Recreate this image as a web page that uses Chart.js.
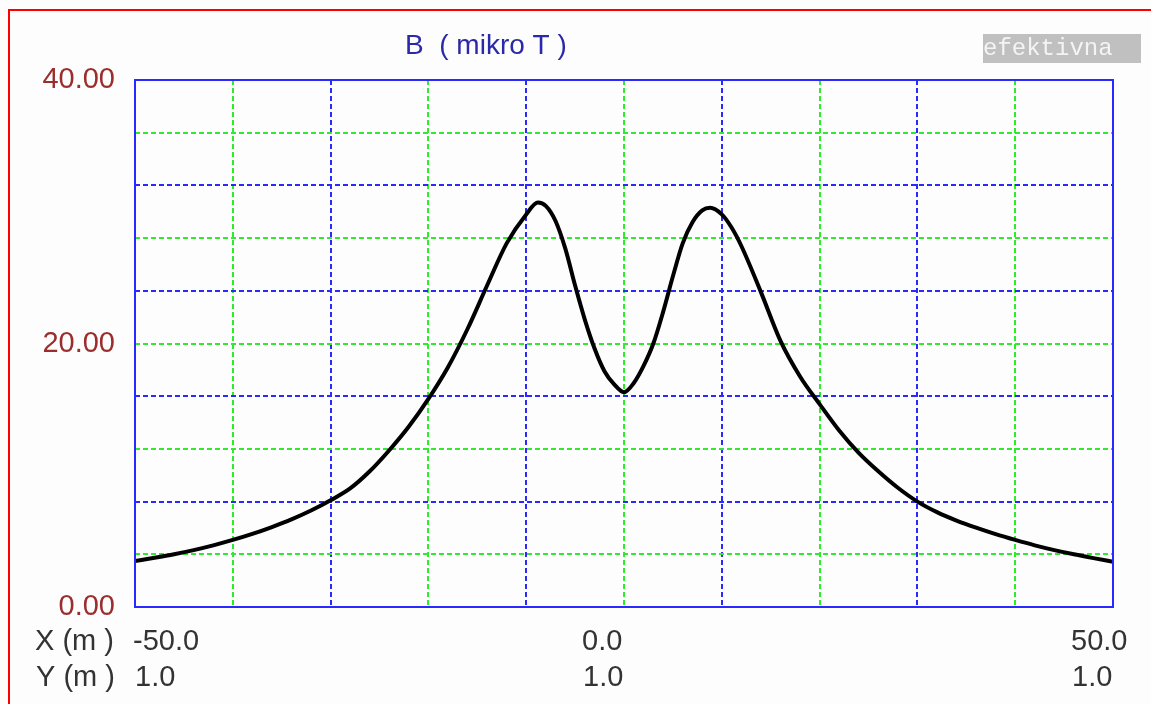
<!DOCTYPE html>
<html>
<head>
<meta charset="utf-8">
<title>B (mikro T)</title>
<script src="https://cdn.jsdelivr.net/npm/chart.js@4.4.1/dist/chart.umd.min.js"></script>
<style>
  html, body { margin: 0; padding: 0; background: #fdfdfd; }
  #wrap { position: relative; width: 1151px; height: 704px; }
</style>
</head>
<body>
<div id="wrap"><canvas id="fieldChart"></canvas></div>
<script>
// udaljenost od osi voda (m)
const xPos = [-50, -48, -46, -44, -42, -40, -38, -36, -34, -32, -30, -28, -26, -24, -22, -20,
  -18, -16, -14, -12, -10, -8.8, -8, -7, -6, -5, -4, -3, -2, -1, 0,
  1, 2, 3, 4, 5, 6, 7, 8, 8.8, 10, 11, 12, 14, 16, 18, 20,
  22, 24, 26, 28, 30, 32, 34, 36, 38, 40, 42, 44, 46, 48, 50];
// efektivna vrijednost B (mikro T)
const bEff = [3.49, 3.74, 4.01, 4.32, 4.68, 5.09, 5.55, 6.07, 6.65, 7.32, 8.1, 9.0, 10.3, 11.9, 13.7, 15.8,
  18.2, 21.1, 24.4, 27.6, 29.8, 30.7, 30.45, 29.3, 27.2, 24.4, 21.8, 19.6, 17.9, 16.9, 16.3,
  17.0, 18.3, 20.0, 22.4, 25.1, 27.6, 29.2, 30.1, 30.3, 29.8, 28.8, 27.4, 23.9, 20.2, 17.5, 15.4,
  13.4, 11.7, 10.3, 9.05, 8.0, 7.2, 6.56, 6.02, 5.53, 5.09, 4.68, 4.32, 4.0, 3.71, 3.44];

const yLabels = [0, 20, 40];            // oznake na y osi
const xLabels = [-50, 0, 50];           // oznake na x osi
const yHeight = ["1.0", "1.0", "1.0"];  // visina proracuna Y (m)

const GREEN = "#2fea2f";
const BLUE = "#2a2aff";
const labelFont = "29px 'Liberation Sans', Arial, sans-serif";

// okvir, naslov i donje oznake
const decor = {
  id: "decor",
  beforeDraw(chart) {
    const c = chart.ctx;
    c.save();
    c.fillStyle = "#fdfdfd";
    c.fillRect(0, 0, chart.width, chart.height);
    c.strokeStyle = "#ff0000";
    c.lineWidth = 2;
    c.beginPath();
    c.moveTo(9, chart.height);
    c.lineTo(9, 10);
    c.lineTo(chart.width, 10);
    c.stroke();
    c.restore();
  },
  afterDraw(chart) {
    const c = chart.ctx;
    const a = chart.chartArea;
    const sx = chart.scales.x;
    c.save();
    // okvir dijagrama
    c.strokeStyle = BLUE;
    c.lineWidth = 2;
    c.strokeRect(a.left, a.top, a.right - a.left, a.bottom - a.top);

    // naslov
    c.font = "28px 'Liberation Sans', Arial, sans-serif";
    c.fillStyle = "#2a2aa8";
    c.textBaseline = "alphabetic";
    c.textAlign = "left";
    c.fillText("B  ( mikro T )", 405, 54);

    // oznaka vrste vrijednosti
    c.fillStyle = "#c0c0c0";
    c.fillRect(983, 34, 158, 29);
    c.fillStyle = "#f4f4f4";
    c.font = "24px 'Liberation Mono', 'Courier New', monospace";
    c.fillText("efektivna", 983, 55);

    // X i Y ispod osi
    c.fillStyle = "#333333";
    c.font = labelFont;
    c.fillText("X (m )", 35, 650);
    c.fillText("Y (m )", 36, 686);
    xLabels.forEach((v, i) => {
      const px = sx.getPixelForValue(v);
      const left = i === 0 ? px - 2 : px - 42;
      c.fillText(v.toFixed(1), left, 650);
      c.fillText(yHeight[i], i === 0 ? px : left + 1, 686);
    });
    c.restore();
  }
};

const ctx = document.getElementById("fieldChart").getContext("2d");
new Chart(ctx, {
  type: "line",
  data: {
    datasets: [{
      data: xPos.map((x, i) => ({ x: x, y: bEff[i] })),
      borderColor: "#000000",
      borderWidth: 4,
      pointRadius: 0,
      fill: false,
      cubicInterpolationMode: "monotone"
    }]
  },
  options: {
    responsive: true,
    maintainAspectRatio: false,
    animation: false,
    layout: { padding: { left: 0, top: 80, right: 38, bottom: 0 } },
    plugins: {
      legend: { display: false },
      tooltip: { enabled: false }
    },
    scales: {
      x: {
        type: "linear",
        min: -50,
        max: 50,
        ticks: { stepSize: 10, display: false },
        grid: {
          drawTicks: false,
          lineWidth: 2,
          color: (c) => (Math.round(c.tick.value / 10) % 2 === 0 ? GREEN : BLUE)
        },
        border: { display: false, dash: [5, 3] },
        afterFit(scale) { scale.height = 97; }
      },
      y: {
        min: 0,
        max: 40,
        ticks: {
          stepSize: 4,
          padding: 20,
          color: "#9b2d2d",
          font: { size: 29, family: "'Liberation Sans', Arial, sans-serif" },
          callback: (v) => (yLabels.includes(v) ? v.toFixed(2) : "")
        },
        grid: {
          drawTicks: false,
          lineWidth: 2,
          color: (c) => (Math.round(c.tick.value / 4) % 2 === 1 ? GREEN : BLUE)
        },
        border: { display: false, dash: [5, 3] },
        afterFit(scale) { scale.width = 135; }
      }
    }
  },
  plugins: [decor]
});
</script>
</body>
</html>
